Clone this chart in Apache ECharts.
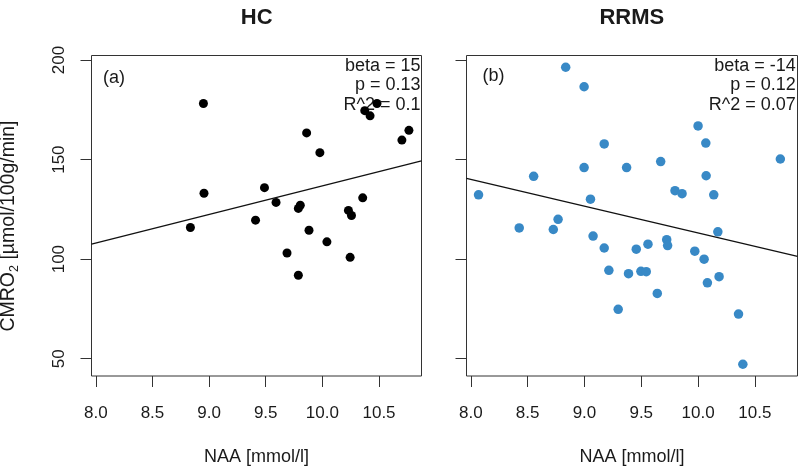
<!DOCTYPE html>
<html><head><meta charset="utf-8">
<script src="https://cdn.jsdelivr.net/npm/echarts@6/dist/echarts.min.js"></script>
<style>html,body{margin:0;padding:0;background:#fff}#c{width:800px;height:471px}</style>
</head><body><div id="c"></div>
<script>
// ---- data ----
const panelTitles = ['HC', 'RRMS'];
const panelTags = ['(a)', '(b)'];
const statsHC = ['beta = 15', 'p = 0.13', 'R^2 = 0.1'];
const statsRRMS = ['beta = -14', 'p = 0.12', 'R^2 = 0.07'];

const naaHC  = [8.950, 8.955, 8.835, 9.489, 9.591, 9.410, 9.861, 9.978, 9.805, 9.788, 9.882, 9.688, 9.788, 10.040, 10.230, 10.257, 10.245, 10.356, 10.374, 10.421, 10.482, 10.702, 10.764];
const cmroHC = [178.2, 133.1, 115.9, 135.9, 128.5, 119.6, 163.4, 153.5, 127.1, 125.5, 114.5, 103.1, 91.9, 108.7, 124.5, 121.9, 100.9, 130.8, 174.6, 172.0, 178.2, 159.8, 164.7];

const naaRRMS  = [8.835, 8.997, 8.068, 8.553, 8.426, 8.726, 8.768, 9.174, 8.997, 9.053, 9.076, 9.174, 9.215, 9.297, 9.371, 9.388, 9.456, 9.497, 9.544, 9.559, 9.641, 9.671, 9.724, 9.732, 9.797, 9.859, 9.971, 10.000, 10.068, 10.071, 10.053, 10.082, 10.138, 10.174, 10.185, 10.356, 10.394, 10.724];
const cmroRRMS = [196.4, 186.6, 132.3, 141.6, 115.7, 114.9, 120.0, 157.9, 146.0, 130.1, 111.6, 105.6, 94.4, 74.8, 146.0, 92.7, 105.0, 93.9, 93.7, 107.5, 82.8, 149.0, 109.8, 106.8, 134.4, 132.9, 104.0, 166.9, 158.3, 141.9, 100.0, 88.1, 132.3, 113.7, 91.2, 72.4, 47.2, 150.3];

const fitHCx = [7.962, 10.875];
const fitHCy = [107.6, 149.4];
const fitRRMSx = [7.962, 10.875];
const fitRRMSy = [140.6, 101.4];

const xTicks = [8.0, 8.5, 9.0, 9.5, 10.0, 10.5];
const yTicks = [50, 100, 150, 200];
const xRange = [7.962, 10.875];
const yRange = [41.3, 202.3];
const xName = 'NAA [mmol/l]';

// ---- chart ----
const FONT = "'Liberation Sans', Arial, Helvetica, sans-serif";
const INK = '#1a1a1a';
const zip = (a, b) => a.map((v, i) => [v, b[i]]);

const chart = echarts.init(document.getElementById('c'), null, {renderer: 'canvas'});

function xAxisFor(i) {
  return {
    type: 'value', gridIndex: i, min: xRange[0], max: xRange[1],
    axisLine: {show: false}, splitLine: {show: false},
    axisTick: {show: true, length: 11, customValues: xTicks, lineStyle: {color: '#333', width: 1}},
    axisLabel: {customValues: xTicks, formatter: v => v.toFixed(1), margin: 29,
      fontSize: 17, color: INK, fontFamily: FONT},
    name: xName, nameLocation: 'middle', nameGap: 72,
    nameTextStyle: {fontSize: 18, color: INK, fontFamily: FONT}
  };
}
function yAxisFor(i, labels) {
  return {
    type: 'value', gridIndex: i, min: yRange[0], max: yRange[1],
    axisLine: {show: false}, splitLine: {show: false},
    axisTick: {show: true, length: 11, customValues: yTicks, lineStyle: {color: '#333', width: 1}},
    axisLabel: {show: labels, customValues: yTicks, rotate: 90, margin: 24,
      fontSize: 17, color: INK, fontFamily: FONT}
  };
}

function txt(x, y, s, opts) {
  return {type: 'text', x: x, y: y, z: 0, silent: true,
    style: Object.assign({text: s, fontSize: 18, fontFamily: FONT, fill: INK,
      align: 'right', verticalAlign: 'middle'}, opts || {})};
}

const statYs = [66, 85.5, 105];
const graphics = [
  txt(256.7, 18, panelTitles[0], {align: 'center', fontSize: 22, fontWeight: 'bold'}),
  txt(631.8, 18, panelTitles[1], {align: 'center', fontSize: 22, fontWeight: 'bold'}),
  txt(103, 78, panelTags[0], {align: 'left'}),
  txt(482.5, 76, panelTags[1], {align: 'left'}),
];
statsHC.forEach((s, k) => graphics.push(txt(420.5, statYs[k], s)));
statsRRMS.forEach((s, k) => graphics.push(txt(795.8, statYs[k], s)));
graphics.push({
  type: 'text', x: 9, y: 226, rotation: Math.PI / 2, silent: true,
  style: {
    text: '{a|CMRO}{s|2}{a| [µmol/100g/min]}',
    align: 'center', verticalAlign: 'middle', fill: INK, fontFamily: FONT,
    rich: {
      a: {fontSize: 19.5, fontFamily: FONT, fill: INK, lineHeight: 24, verticalAlign: 'middle'},
      s: {fontSize: 12.5, fontFamily: FONT, fill: INK, lineHeight: 14, verticalAlign: 'bottom'}
    }
  }
});

chart.setOption({
  animation: false,
  backgroundColor: '#ffffff',
  grid: [
    {left: 91.5, top: 55.5, width: 330, height: 324, show: true, borderColor: '#333', borderWidth: 1, backgroundColor: 'transparent'},
    {left: 466.5, top: 55.5, width: 331, height: 324, show: true, borderColor: '#333', borderWidth: 1, backgroundColor: 'transparent'}
  ],
  xAxis: [xAxisFor(0), xAxisFor(1)],
  yAxis: [yAxisFor(0, true), yAxisFor(1, false)],
  graphic: graphics,
  series: [
    {type: 'scatter', xAxisIndex: 0, yAxisIndex: 0, data: zip(naaHC, cmroHC), symbolSize: 9,
      itemStyle: {color: '#000000', opacity: 1}, z: 3},
    {type: 'scatter', xAxisIndex: 1, yAxisIndex: 1, data: zip(naaRRMS, cmroRRMS), symbolSize: 9.5,
      itemStyle: {color: '#3889c6', opacity: 1}, z: 3},
    {type: 'line', xAxisIndex: 0, yAxisIndex: 0, data: zip(fitHCx, fitHCy), symbol: 'none',
      lineStyle: {color: '#111', width: 1.3}, z: 4},
    {type: 'line', xAxisIndex: 1, yAxisIndex: 1, data: zip(fitRRMSx, fitRRMSy), symbol: 'none',
      lineStyle: {color: '#111', width: 1.3}, z: 4}
  ]
});
</script>
</body></html>
